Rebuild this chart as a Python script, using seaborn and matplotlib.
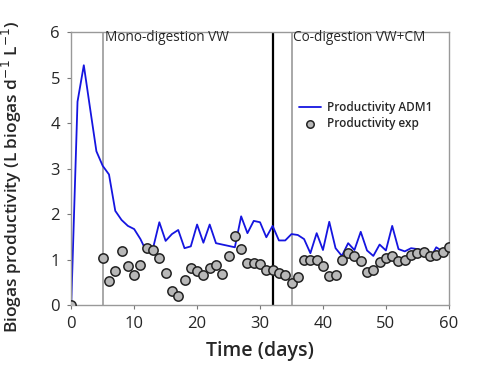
import numpy as np
import pandas as pd
import matplotlib
matplotlib.use('Agg')
import matplotlib.pyplot as plt
import seaborn as sns

# ADM1 model productivity, one value per day 0..60
adm1_day = list(range(0, 61))
adm1_val = [0.0, 4.47, 5.27, 4.32, 3.38, 3.06, 2.87, 2.07, 1.87, 1.74,
            1.67, 1.45, 1.16, 1.25, 1.82, 1.41, 1.56, 1.65, 1.25, 1.29,
            1.77, 1.37, 1.77, 1.36, 1.33, 1.30, 1.27, 1.95, 1.58, 1.85,
            1.82, 1.49, 1.74, 1.42, 1.42, 1.56, 1.54, 1.45, 1.14, 1.58,
            1.21, 1.83, 1.25, 1.08, 1.36, 1.21, 1.61, 1.20, 1.08, 1.33,
            1.20, 1.74, 1.23, 1.18, 1.25, 1.23, 1.20, 1.02, 1.27, 1.18,
            1.27]

# experimental productivity
exp_day = [0] + list(range(5, 61))
exp_val = [0.0, 1.03, 0.52, 0.75, 1.18, 0.86, 0.65, 0.89, 1.25, 1.22,
           1.03, 0.71, 0.32, 0.20, 0.55, 0.82, 0.74, 0.67, 0.82, 0.87,
           0.68, 1.08, 1.52, 1.23, 0.93, 0.93, 0.91, 0.77, 0.76, 0.71,
           0.66, 0.49, 0.62, 0.98, 0.98, 0.98, 0.86, 0.64, 0.65, 0.99,
           1.14, 1.08, 0.96, 0.73, 0.77, 0.94, 1.04, 1.07, 0.96, 0.98,
           1.10, 1.14, 1.16, 1.08, 1.11, 1.17, 1.27]

df_model = pd.DataFrame({'day': adm1_day, 'prod': adm1_val})
df_exp = pd.DataFrame({'day': exp_day, 'prod': exp_val})

sns.set_style('white')
plt.rcParams['font.family'] = ['Open Sans', 'DejaVu Sans']

fig = plt.figure(figsize=(4.78, 3.68), dpi=100)
ax = fig.add_axes([0.149, 0.171, 0.790, 0.742])

ax.axvline(5, color='#999999', lw=1.2, zorder=1)
ax.axvline(32, color='black', lw=1.6, zorder=1)
ax.axvline(35, color='#999999', lw=1.2, zorder=1)

sns.lineplot(data=df_model, x='day', y='prod', ax=ax, color='#1515e0', lw=1.3,
             label='Productivity ADM1', zorder=2)
sns.scatterplot(data=df_exp, x='day', y='prod', ax=ax, color='#b8b8b8',
                edgecolor='#222222', linewidth=1.1, s=45,
                label='Productivity exp', zorder=3)

ax.set_xlim(0, 60)
ax.set_ylim(0, 6)
ax.set_xticks(range(0, 61, 10))
ax.set_yticks(range(0, 7))
ax.tick_params(axis='both', direction='out', length=3, width=0.8,
               color='#777777', labelsize=12, pad=5, bottom=True, left=True)
for s in ax.spines.values():
    s.set_color('#999999')
    s.set_linewidth(1.0)

ax.set_xlabel('Time (days)', fontsize=14, fontweight='semibold', labelpad=6)
ax.set_ylabel('Biogas productivity (L biogas d$^{-1}$ L$^{-1}$)',
              fontsize=12.5, fontweight='semibold')
ax.yaxis.set_label_coords(-0.125, 0.47)

ax.text(5.3, 5.88, 'Mono-digestion VW', fontsize=9.8, va='center', ha='left')
ax.text(35.3, 5.88, 'Co-digestion VW+CM', fontsize=9.8, va='center', ha='left')

ax.legend(loc='upper left', bbox_to_anchor=(0.575, 0.785), frameon=False,
          handlelength=1.9, handletextpad=0.5, labelspacing=0.2,
          markerscale=0.8, prop={'weight': 'semibold', 'size': 8.5})

fig.savefig('out.png', dpi=100)
